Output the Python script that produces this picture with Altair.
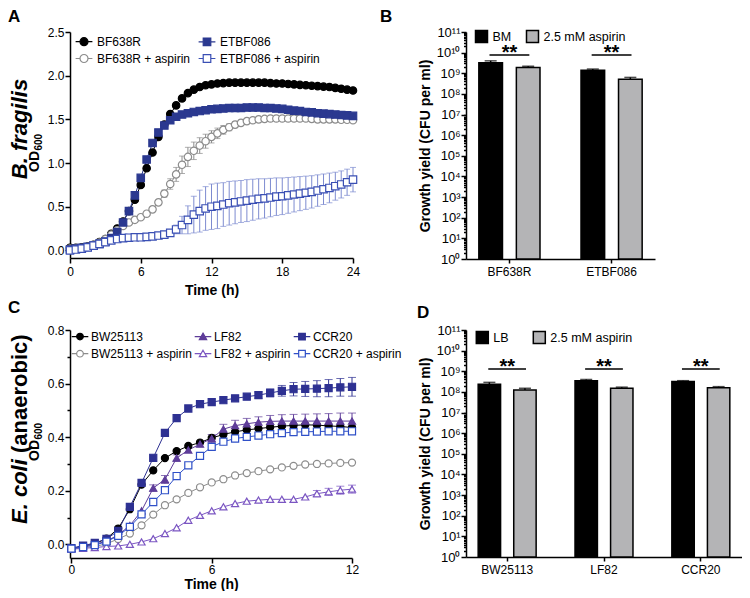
import altair as alt
import pandas as pd

FONT = "Liberation Sans"

# ---------------- Panel A data (B. fragilis growth curves) ----------------
time_a = [0.0, 0.5, 1.0, 1.5, 2.0, 2.5, 3.0, 3.5, 4.0, 4.5, 5.0, 5.5, 6.0, 6.5, 7.0, 7.5,
          8.0, 8.5, 9.0, 9.5, 10.0, 10.5, 11.0, 11.5, 12.0, 12.5, 13.0, 13.5, 14.0, 14.5,
          15.0, 15.5, 16.0, 16.5, 17.0, 17.5, 18.0, 18.5, 19.0, 19.5, 20.0, 20.5, 21.0,
          21.5, 22.0, 22.5, 23.0, 23.5, 24.0]
a_names = ["BF638R", "BF638R + aspirin", "ETBF086", "ETBF086 + aspirin"]
bf638r = [0.03, 0.03, 0.035, 0.045, 0.065, 0.095, 0.13, 0.19, 0.25, 0.33,
          0.45, 0.58, 0.75, 0.94, 1.12, 1.30, 1.44, 1.56, 1.66, 1.74,
          1.80, 1.84, 1.87, 1.89, 1.90, 1.91, 1.915, 1.92, 1.92, 1.92,
          1.92, 1.92, 1.92, 1.92, 1.915, 1.91, 1.91, 1.905, 1.90, 1.895,
          1.89, 1.885, 1.88, 1.875, 1.87, 1.86, 1.85, 1.84, 1.83]
bf638r_asp = [0.02, 0.025, 0.03, 0.04, 0.06, 0.09, 0.13, 0.18, 0.23, 0.28,
              0.32, 0.35, 0.38, 0.42, 0.47, 0.55, 0.65, 0.76, 0.87, 0.98,
              1.07, 1.14, 1.20, 1.25, 1.30, 1.34, 1.38, 1.41, 1.44, 1.46,
              1.48, 1.49, 1.50, 1.505, 1.51, 1.51, 1.51, 1.51, 1.51, 1.51,
              1.51, 1.505, 1.50, 1.50, 1.50, 1.50, 1.495, 1.495, 1.49]
bf638r_asp_err = [0.005, 0.005, 0.005, 0.005, 0.005, 0.005, 0.008, 0.008, 0.01, 0.01,
                  0.01, 0.01, 0.01, 0.01, 0.012, 0.02, 0.04, 0.06, 0.08, 0.10,
                  0.11, 0.10, 0.09, 0.08, 0.07, 0.06, 0.05, 0.04, 0.035, 0.03,
                  0.025, 0.02, 0.018, 0.015, 0.015, 0.015, 0.015, 0.015, 0.015, 0.015,
                  0.015, 0.015, 0.015, 0.015, 0.018, 0.02, 0.02, 0.022, 0.025]
etbf086 = [0.01, 0.02, 0.03, 0.04, 0.055, 0.075, 0.10, 0.14, 0.21, 0.32,
           0.45, 0.63, 0.83, 1.04, 1.23, 1.35, 1.43, 1.49, 1.53, 1.555,
           1.57, 1.585, 1.595, 1.605, 1.615, 1.62, 1.625, 1.63, 1.63, 1.63,
           1.635, 1.635, 1.635, 1.63, 1.63, 1.625, 1.62, 1.61, 1.60, 1.595,
           1.585, 1.58, 1.57, 1.565, 1.56, 1.555, 1.55, 1.545, 1.54]
etbf086_asp = [0.00, 0.01, 0.02, 0.035, 0.055, 0.075, 0.095, 0.115, 0.13, 0.14,
               0.145, 0.15, 0.15, 0.155, 0.16, 0.17, 0.18, 0.20, 0.24, 0.29,
               0.35, 0.41, 0.45, 0.48, 0.50, 0.51, 0.525, 0.54, 0.55, 0.56,
               0.57, 0.58, 0.59, 0.595, 0.605, 0.615, 0.62, 0.63, 0.64, 0.65,
               0.66, 0.67, 0.685, 0.70, 0.715, 0.735, 0.755, 0.78, 0.81]
etbf086_asp_err = [0.005, 0.005, 0.005, 0.008, 0.01, 0.01, 0.01, 0.01, 0.01, 0.01,
                   0.01, 0.01, 0.01, 0.01, 0.01, 0.015, 0.02, 0.03, 0.05, 0.10,
                   0.16, 0.21, 0.24, 0.25, 0.26, 0.26, 0.25, 0.25, 0.245, 0.24,
                   0.24, 0.235, 0.23, 0.225, 0.22, 0.215, 0.21, 0.205, 0.20, 0.195,
                   0.19, 0.185, 0.18, 0.175, 0.17, 0.16, 0.155, 0.15, 0.14]

# ---------------- Panel C data (E. coli anaerobic growth curves) ----------------
time_c = [0.0, 0.5, 1.0, 1.5, 2.0, 2.5, 3.0, 3.5, 4.0, 4.5, 5.0, 5.5, 6.0,
          6.5, 7.0, 7.5, 8.0, 8.5, 9.0, 9.5, 10.0, 10.5, 11.0, 11.5, 12.0]
c_names = ["BW25113", "BW25113 + aspirin", "LF82", "LF82 + aspirin", "CCR20", "CCR20 + aspirin"]
bw25113 = [-0.016, -0.007, 0.002, 0.021, 0.059, 0.131, 0.223, 0.276, 0.322, 0.348, 0.367, 0.38, 0.397,
           0.41, 0.42, 0.427, 0.432, 0.437, 0.441, 0.444, 0.446, 0.445, 0.442, 0.44, 0.436]
bw25113_err = [0.002, 0.002, 0.002, 0.003, 0.004, 0.005, 0.005, 0.005, 0.005, 0.005, 0.006, 0.006, 0.007,
               0.008, 0.008, 0.008, 0.008, 0.008, 0.008, 0.008, 0.008, 0.008, 0.008, 0.008, 0.008]
bw25113_asp = [-0.016, -0.012, -0.008, 0.002, 0.02, 0.04, 0.071, 0.111, 0.146, 0.168, 0.192, 0.213, 0.231,
               0.243, 0.257, 0.266, 0.273, 0.28, 0.287, 0.293, 0.298, 0.3, 0.302, 0.304, 0.305]
lf82 = [-0.015, -0.008, 0.0, 0.012, 0.035, 0.07, 0.125, 0.21, 0.242, 0.322, 0.352, 0.374, 0.395,
        0.43, 0.443, 0.45, 0.456, 0.459, 0.46, 0.46, 0.46, 0.46, 0.46, 0.46, 0.46]
lf82_err = [0.0, 0.0, 0.0, 0.0, 0.0, 0.0, 0.005, 0.012, 0.015, 0.012, 0.01, 0.01, 0.015,
            0.018, 0.02, 0.02, 0.02, 0.022, 0.024, 0.025, 0.026, 0.027, 0.028, 0.03, 0.03]
lf82_asp = [-0.018, -0.015, -0.012, -0.008, -0.006, 0.0, 0.009, 0.021, 0.04, 0.062, 0.09, 0.108, 0.125,
            0.14, 0.152, 0.161, 0.165, 0.168, 0.168, 0.168, 0.177, 0.189, 0.196, 0.202, 0.206]
lf82_asp_err = [0.0, 0.0, 0.0, 0.0, 0.0, 0.0, 0.0, 0.0, 0.0, 0.0, 0.0, 0.0, 0.0,
                0.0, 0.0, 0.0, 0.0, 0.0, 0.005, 0.008, 0.01, 0.012, 0.013, 0.015, 0.015]
ccr20 = [-0.014, -0.005, 0.005, 0.02, 0.05, 0.14, 0.229, 0.323, 0.416, 0.471, 0.507, 0.523, 0.531,
         0.538, 0.545, 0.551, 0.557, 0.565, 0.573, 0.579, 0.58, 0.581, 0.583, 0.586, 0.588]
ccr20_err = [0.0, 0.0, 0.0, 0.0, 0.0, 0.0, 0.0, 0.0, 0.0, 0.0, 0.0, 0.0, 0.005,
             0.007, 0.008, 0.01, 0.012, 0.015, 0.02, 0.025, 0.028, 0.03, 0.032, 0.033, 0.035]
ccr20_asp = [-0.016, -0.01, -0.003, 0.01, 0.032, 0.065, 0.112, 0.158, 0.202, 0.255, 0.295, 0.33, 0.364,
             0.383, 0.395, 0.401, 0.406, 0.411, 0.415, 0.419, 0.42, 0.421, 0.422, 0.422, 0.422]

# ---------------- Panels B and D data (growth yield, CFU per ml) ----------------
b_strains = ["BF638R", "ETBF086"]
b_conds = ["BM", "2.5 mM aspirin"]
b_yield = [3.2e9, 1.9e9, 1.4e9, 5.1e8]
b_yield_hi = [4.0e9, 2.2e9, 1.6e9, 6.3e8]
b_sig = ["**", "**"]

d_strains = ["BW25113", "LF82", "CCR20"]
d_conds = ["LB", "2.5 mM aspirin"]
d_yield = [2.35e8, 1.25e8, 3.5e8, 1.5e8, 3.2e8, 1.6e8]
d_yield_hi = [2.9e8, 1.5e8, 4.0e8, 1.7e8, 3.5e8, 1.8e8]
d_sig = ["**", "**", "**"]


def long_df(times, names, values, errs):
    rows = []
    for name, vals, er in zip(names, values, errs):
        for i, t in enumerate(times):
            e = er[i] if er is not None else 0.0
            rows.append({"t": t, "series": name, "od": vals[i],
                         "lo": vals[i] - e, "hi": vals[i] + e, "err": e})
    return pd.DataFrame(rows)


def sym_path(kind, r):
    # legend symbol: a short connecting line through the marker (line spans [-1, 1])
    if kind == "circle":
        return f"M-1,0H-{r}M{r},0H1M-{r},0A{r},{r},0,1,1,{r},0A{r},{r},0,1,1,-{r},0Z"
    if kind == "square":
        return f"M-1,0H-{r}M{r},0H1M-{r},-{r}H{r}V{r}H-{r}Z"
    h = r * 0.55
    return f"M-1,0H-{h}M{h},0H1M0,-{r}L{r * 1.05},{r * 0.85}H-{r * 1.05}Z"


def growth_panel(df, order, line_cols, err_cols, fills, shapes, leg_paths,
                 xscale, xaxis, yscale, yaxis, legend, pt_size,
                 leg_size, cap, texts, width, height, title):
    def X():
        return alt.X("t:Q", scale=xscale, axis=xaxis)

    def Y(f):
        return alt.Y(f + ":Q", scale=yscale, axis=yaxis)

    lines = alt.Chart(df).mark_line(strokeWidth=1).encode(
        x=X(), y=Y("od"),
        stroke=alt.Stroke("series:N", scale=alt.Scale(domain=order, range=line_cols), legend=None))
    ebase = alt.Chart(df).transform_filter("datum.err >= 0.012")
    ecol = alt.Color("series:N", scale=alt.Scale(domain=order, range=err_cols), legend=None)
    erule = ebase.mark_rule(strokeWidth=1).encode(x=X(), y=Y("lo"), y2="hi:Q", color=ecol)
    ecap_lo = ebase.mark_tick(orient="horizontal", size=cap, thickness=1).encode(
        x=X(), y=Y("lo"), color=ecol)
    ecap_hi = ebase.mark_tick(orient="horizontal", size=cap, thickness=1).encode(
        x=X(), y=Y("hi"), color=ecol)
    pts = alt.Chart(df).mark_point(filled=True, opacity=1, size=pt_size, strokeWidth=1.2).encode(
        x=X(), y=Y("od"),
        shape=alt.Shape("series:N", scale=alt.Scale(domain=order, range=shapes), legend=None),
        fill=alt.Fill("series:N", scale=alt.Scale(domain=order, range=fills), legend=None),
        stroke=alt.Stroke("series:N", scale=alt.Scale(domain=order, range=line_cols), legend=None))
    leg = alt.Chart(df).transform_filter("false").mark_point(
        filled=True, opacity=1, size=leg_size, strokeWidth=1.2).encode(
        shape=alt.Shape("series:N", scale=alt.Scale(domain=order, range=leg_paths), legend=legend),
        fill=alt.Fill("series:N", scale=alt.Scale(domain=order, range=fills), legend=legend),
        stroke=alt.Stroke("series:N", scale=alt.Scale(domain=order, range=line_cols), legend=legend))
    layers = [lines, erule, ecap_lo, ecap_hi, pts, leg] + texts
    return alt.layer(*layers).resolve_scale(
        shape="independent", fill="independent", stroke="independent", color="independent"
    ).resolve_legend(
        shape="independent", fill="independent", stroke="independent", color="independent"
    ).properties(width=width, height=height, title=title)


def panel_title(letter, dx, offset):
    return alt.Title(letter, anchor="start", frame="group", dx=dx, offset=offset,
                     fontSize=17, fontWeight="bold", font=FONT, color="black")


def rot_text(label, x, y, align, style, size=22):
    return alt.Chart(pd.DataFrame({"label": [label]})).mark_text(
        angle=270, font=FONT, fontSize=size, fontWeight="bold", fontStyle=style,
        align=align, baseline="alphabetic", color="black").encode(
        x=alt.value(x), y=alt.value(y), text="label:N")


def od_title(x, y_bottom):
    # "OD" with a subscript "600"
    return [rot_text("OD", x, y_bottom, "left", "normal", 14),
            rot_text("600", x + 3, y_bottom - 21.5, "left", "normal", 10)]


# ---------------- Panel A ----------------
dfA = long_df(time_a, a_names, [bf638r, bf638r_asp, etbf086, etbf086_asp],
              [None, bf638r_asp_err, None, etbf086_asp_err])
a_lines = ["#000000", "#8C8C8C", "#2B3990", "#3A4FB4"]
a_errs = ["#000000", "#8C8C8C", "#2B3990", "#7D8BD0"]
a_fills = ["#000000", "#FFFFFF", "#2B3990", "#FFFFFF"]
a_shapes = ["circle", "circle", "square", "square"]
a_leg_paths = [sym_path("circle", 0.476), sym_path("circle", 0.476),
               sym_path("square", 0.45), sym_path("square", 0.45)]
a_legend = alt.Legend(orient="none", legendX=5, legendY=0.4, columns=2, title=None,
                      symbolSize=282, labelFontSize=12, labelOffset=4, columnPadding=5,
                      rowPadding=1.1, padding=0, symbolStrokeWidth=1.2)
chartA = growth_panel(
    dfA, a_names, a_lines, a_errs, a_fills, a_shapes, a_leg_paths,
    alt.Scale(domain=[0, 24], nice=False, zero=False),
    alt.Axis(values=[0, 6, 12, 18, 24], title="Time (h)", titlePadding=6, labelPadding=3,
             tickSize=5, labelFlush=False),
    alt.Scale(domain=[-0.087, 2.5], nice=False, zero=False),
    alt.Axis(values=[0, 0.5, 1, 1.5, 2, 2.5], format=".1f", title=None, tickSize=5,
             labelPadding=1),
    a_legend, 55, 282, 6,
    [rot_text("B. fragilis", -43, 97, "center", "italic")] + od_title(-31, 140),
    283, 226, panel_title("A", -62, 0))

# ---------------- Panel C ----------------
dfC = long_df(time_c, c_names, [bw25113, bw25113_asp, lf82, lf82_asp, ccr20, ccr20_asp],
              [bw25113_err, None, lf82_err, lf82_asp_err, ccr20_err, None])
c_lines = ["#000000", "#8C8C8C", "#5E3C99", "#7B56C2", "#2E3192", "#2F50C8"]
c_fills = ["#000000", "#FFFFFF", "#5E3C99", "#FFFFFF", "#2E3192", "#FFFFFF"]
c_shapes = ["circle", "circle", "triangle-up", "triangle-up", "square", "square"]
c_leg_paths = [sym_path("circle", 0.4), sym_path("circle", 0.4), sym_path("tri", 0.42),
               sym_path("tri", 0.42), sym_path("square", 0.4), sym_path("square", 0.4)]
c_legend = alt.Legend(orient="none", legendX=1, legendY=-2.4, columns=3, title=None,
                      symbolSize=276, labelFontSize=12, labelOffset=2, columnPadding=0,
                      rowPadding=2.1, padding=0, symbolStrokeWidth=1.2)
c_tick_test = "round(datum.value*10) % 2 == 0"
chartC = growth_panel(
    dfC, c_names, c_lines, c_lines, c_fills, c_shapes, c_leg_paths,
    alt.Scale(domain=[-0.06, 12], nice=False, zero=False),
    alt.Axis(values=[0, 6, 12], title="Time (h)", titlePadding=2, labelPadding=1,
             tickSize=5, labelFlush=False),
    alt.Scale(domain=[-0.051, 0.8], nice=False, zero=False),
    alt.Axis(values=[0, 0.1, 0.2, 0.3, 0.4, 0.5, 0.6, 0.7, 0.8],
             labelExpr=f"{c_tick_test} ? format(datum.value, '.1f') : ''",
             tickSize={"condition": {"test": c_tick_test, "value": 5}, "value": 3},
             labelOverlap=False, title=None, labelPadding=1),
    c_legend, 50, 276, 8,
    [rot_text("E. coli", -43, 194, "left", "italic"),
     rot_text("(anaerobic)", -43, 123, "left", "normal")] + od_title(-31, 131),
    282, 228, panel_title("C", -62, 7))

# ---------------- Bar panels (B, D) ----------------
log_ticks = []
for n in range(0, 11):
    for k in range(1, 10):
        log_ticks.append(k * 10.0 ** n)
log_ticks.append(1e11)
EXP = "round(log(datum.value)/LN10)"
IS_MAJOR = f"abs(log(datum.value)/LN10 - {EXP}) < 0.001"
SUP = "⁰¹²³⁴⁵⁶⁷⁸⁹"
LOG_LABEL = (f"{IS_MAJOR} ? '10' + ({EXP} >= 10 ? '¹' + substring('{SUP}', {EXP} - 10, {EXP} - 9)"
             f" : substring('{SUP}', {EXP}, {EXP} + 1)) : ''")


def bar_panel(strains, conds, vals, his, sig, sig_y, legend, width, height, title):
    rows = []
    k = 0
    for s in strains:
        for c in conds:
            rows.append({"strain": s, "cond": c, "val": vals[k], "hi": his[k]})
            k += 1
    df = pd.DataFrame(rows)
    sdf = pd.DataFrame({"strain": strains, "y": [sig_y] * len(strains), "label": sig})
    xscale = alt.Scale(domain=strains, paddingInner=0.35, paddingOuter=0.1)
    xaxis = alt.Axis(title=None, labelAngle=0, tickSize=4, labelPadding=3, labelFontSize=12)
    yscale = alt.Scale(type="log", domain=[1, 1e11], nice=False)
    yaxis = alt.Axis(values=log_ticks, labelExpr=LOG_LABEL,
                     tickSize={"condition": {"test": IS_MAJOR, "value": 5}, "value": 2.5},
                     labelOverlap=False, title="Growth yield (CFU per ml)", labelPadding=1,
                     labelFontSize=13, titlePadding=4)
    x = alt.X("strain:N", scale=xscale, axis=xaxis)
    xo = alt.XOffset("cond:N", scale=alt.Scale(domain=conds, paddingInner=0.37, paddingOuter=0.07))
    bars = alt.Chart(df).mark_bar(stroke="black", strokeWidth=1.5).encode(
        x=x, xOffset=xo, y=alt.Y("val:Q", scale=yscale, axis=yaxis), y2=alt.datum(1),
        fill=alt.Fill("cond:N", scale=alt.Scale(domain=conds, range=["#000000", "#B4B4B6"]),
                      legend=legend))
    erule = alt.Chart(df).mark_rule(color="black", strokeWidth=1.5).encode(
        x=x, xOffset=xo, y=alt.Y("val:Q", scale=yscale), y2="hi:Q")
    ecap = alt.Chart(df).mark_tick(color="black", thickness=1.5, size=12).encode(
        x=x, xOffset=xo, y=alt.Y("hi:Q", scale=yscale))
    srule = alt.Chart(sdf).mark_rule(color="black", strokeWidth=1.5).encode(
        x=alt.X("strain:N", scale=xscale, bandPosition=0.2),
        x2=alt.X2("strain:N", bandPosition=0.8),
        y=alt.Y("y:Q", scale=yscale))
    stext = alt.Chart(sdf).mark_text(font=FONT, fontSize=20, fontWeight="bold", dy=4.5,
                                     baseline="alphabetic", align="center", color="black").encode(
        x=alt.X("strain:N", scale=xscale), y=alt.Y("y:Q", scale=yscale), text="label:N")
    return alt.layer(bars, erule, ecap, srule, stext).properties(
        width=width, height=height, title=title)


b_legend = alt.Legend(orient="none", legendX=8.5, legendY=-2.5, direction="horizontal", title=None,
                      symbolType="square", symbolSize=144, symbolStrokeColor="black",
                      symbolStrokeWidth=1.5, labelFontSize=12.5, labelOffset=4,
                      columnPadding=12, padding=0)
d_legend = alt.Legend(orient="none", legendX=9.3, legendY=0.5, direction="horizontal", title=None,
                      symbolType="square", symbolSize=144, symbolStrokeColor="black",
                      symbolStrokeWidth=1.5, labelFontSize=12.5, labelOffset=4,
                      columnPadding=21, padding=0)
chartB = bar_panel(b_strains, b_conds, b_yield, b_yield_hi, b_sig, 7.7e9, b_legend, 189, 227,
                   panel_title("B", -86, 0))
chartD = bar_panel(d_strains, d_conds, d_yield, d_yield_hi, d_sig, 1.3e9, d_legend, 276, 227,
                   panel_title("D", -49, 1.6))

chart = alt.concat(chartA, chartB, chartC, chartD, columns=2,
                   spacing={"row": 71, "column": 113}, bounds="flush").resolve_scale(
    shape="independent", fill="independent", stroke="independent", color="independent",
    xOffset="independent"
).resolve_legend(
    shape="independent", fill="independent", stroke="independent", color="independent"
).properties(
    padding=0
).configure_view(stroke=None).configure_axis(
    grid=False, domainColor="black", domainWidth=1.5, tickColor="black", tickWidth=1.5,
    labelColor="black", titleColor="black", labelFont=FONT, titleFont=FONT,
    labelFontSize=12, titleFontSize=14, titleFontWeight="bold"
).configure_legend(labelFont=FONT, labelColor="black").configure_title(
    font=FONT, fontSize=17, fontWeight="bold", color="black")

chart.save("out.html", embed_options={"renderer": "svg", "actions": False})
